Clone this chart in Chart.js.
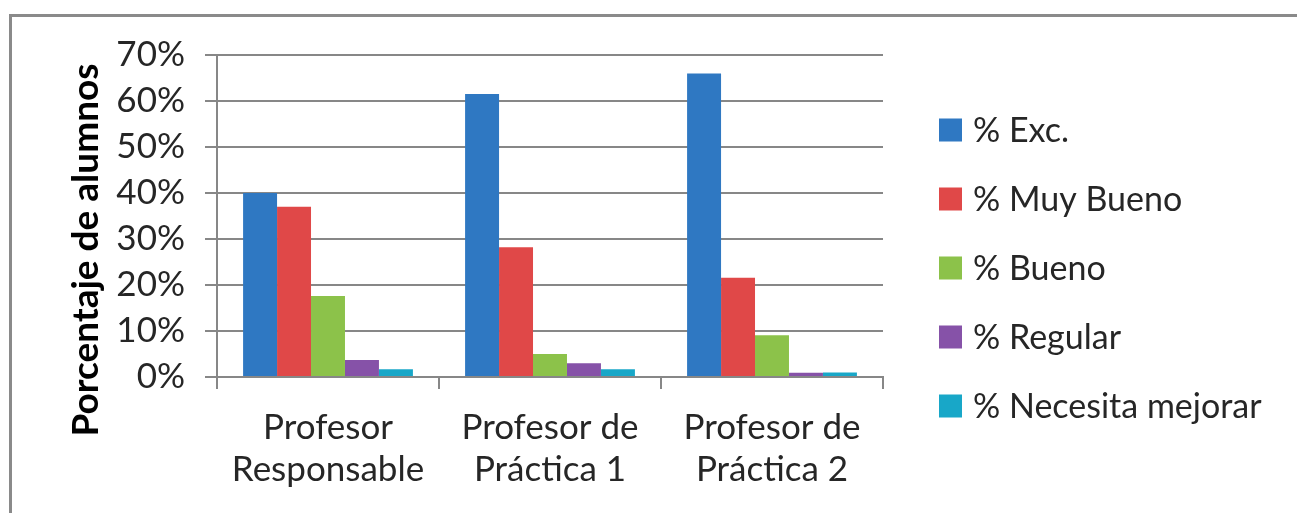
<!DOCTYPE html>
<html>
<head>
<meta charset="utf-8">
<script src="https://cdn.jsdelivr.net/npm/chart.js@4.4.1/dist/chart.umd.min.js"></script>
<style>
    body { margin: 0; background: #fff; }
    #contenedor { position: relative; width: 1297px; height: 513px; overflow: hidden; }
    #marco { position: absolute; left: 9px; top: 14px; width: 1400px; height: 600px;
             border-left: 3px solid #8a8a8a; border-top: 3px solid #8a8a8a; }
    #myChart { position: absolute; left: 0; top: 0; }
</style>
</head>
<body>
<div id="contenedor">
    <div id="marco"></div>
    <canvas id="myChart" width="1297" height="513"></canvas>
</div>
<script>
// Datos del grafico
const categorias = [
    ['Profesor', 'Responsable'],
    ['Profesor de', 'Práctica 1'],
    ['Profesor de', 'Práctica 2']
];
const series = ['% Exc.', '% Muy Bueno', '% Bueno', '% Regular', '% Necesita mejorar'];
const excelente = [40, 61.5, 66];
const muyBueno = [37, 28.2, 21.6];
const bueno = [17.6, 5, 9.1];
const regular = [3.7, 3, 0.9];
const necesitaMejorar = [1.7, 1.7, 1.0];
const ticksY = ['0%', '10%', '20%', '30%', '40%', '50%', '60%', '70%'];
const tituloY = 'Porcentaje de alumnos';

const colores = ['#2F78C2', '#E04848', '#8CC24A', '#8652A8', '#18A7C8'];
const valores = [excelente, muyBueno, bueno, regular, necesitaMejorar];
const gris = '#878787';
const fuente = 'Lato, "Open Sans", sans-serif';

Chart.defaults.font.family = fuente;
Chart.defaults.color = '#262626';

// Leyenda y titulo del eje dibujados a mano para ubicarlos como en la imagen
const leyendaPlugin = {
    id: 'leyenda',
    afterDraw(chart) {
        const ctx = chart.ctx;
        const area = chart.chartArea;
        ctx.save();
        ctx.font = '34px ' + fuente;
        ctx.textBaseline = 'middle';
        chart.data.datasets.forEach((ds, i) => {
            const y = 130 + i * 69;
            ctx.fillStyle = ds.backgroundColor;
            ctx.fillRect(area.right + 56, y - 11.5, 23, 23);
            ctx.fillStyle = '#262626';
            ctx.fillText(ds.label, area.right + 90, y + 1);
        });
        ctx.translate(86, 250);
        ctx.rotate(-Math.PI / 2);
        ctx.textAlign = 'center';
        ctx.font = 'bold 37px ' + fuente;
        ctx.fillStyle = '#000';
        ctx.fillText(tituloY, 0, 0);
        ctx.restore();
    }
};

let ctx = document.getElementById('myChart').getContext('2d');
let graficoChart = new Chart(ctx, {
    type: 'bar',
    data: {
        labels: categorias,
        datasets: series.map((nombre, i) => ({
            label: nombre,
            data: valores[i],
            backgroundColor: colores[i],
            borderWidth: 0,
            categoryPercentage: 0.765,
            barPercentage: 1
        }))
    },
    options: {
        responsive: false,
        animation: false,
        devicePixelRatio: 1,
        layout: { padding: { top: 55, right: 414, left: 0, bottom: 0 } },
        plugins: {
            legend: { display: false },
            tooltip: { enabled: false }
        },
        scales: {
            x: {
                grid: {
                    offset: true,
                    drawOnChartArea: false,
                    drawTicks: true,
                    tickLength: 12,
                    color: gris,
                    lineWidth: 2
                },
                border: { color: gris, width: 2 },
                ticks: {
                    font: { size: 35, lineHeight: 1.2 },
                    padding: 18,
                    maxRotation: 0,
                    autoSkip: false,
                    color: '#262626'
                },
                afterFit: (scale) => { scale.height = 136; }
            },
            y: {
                min: 0,
                max: 70,
                grid: {
                    color: gris,
                    lineWidth: 2,
                    drawTicks: true,
                    tickLength: 12
                },
                border: { color: gris, width: 2 },
                ticks: {
                    stepSize: 10,
                    font: { size: 35 },
                    padding: 20,
                    color: '#262626',
                    callback: (v) => ticksY[Math.round(v / 10)]
                },
                afterFit: (scale) => { scale.width = 217; }
            }
        }
    },
    plugins: [leyendaPlugin]
});
</script>
</body>
</html>
